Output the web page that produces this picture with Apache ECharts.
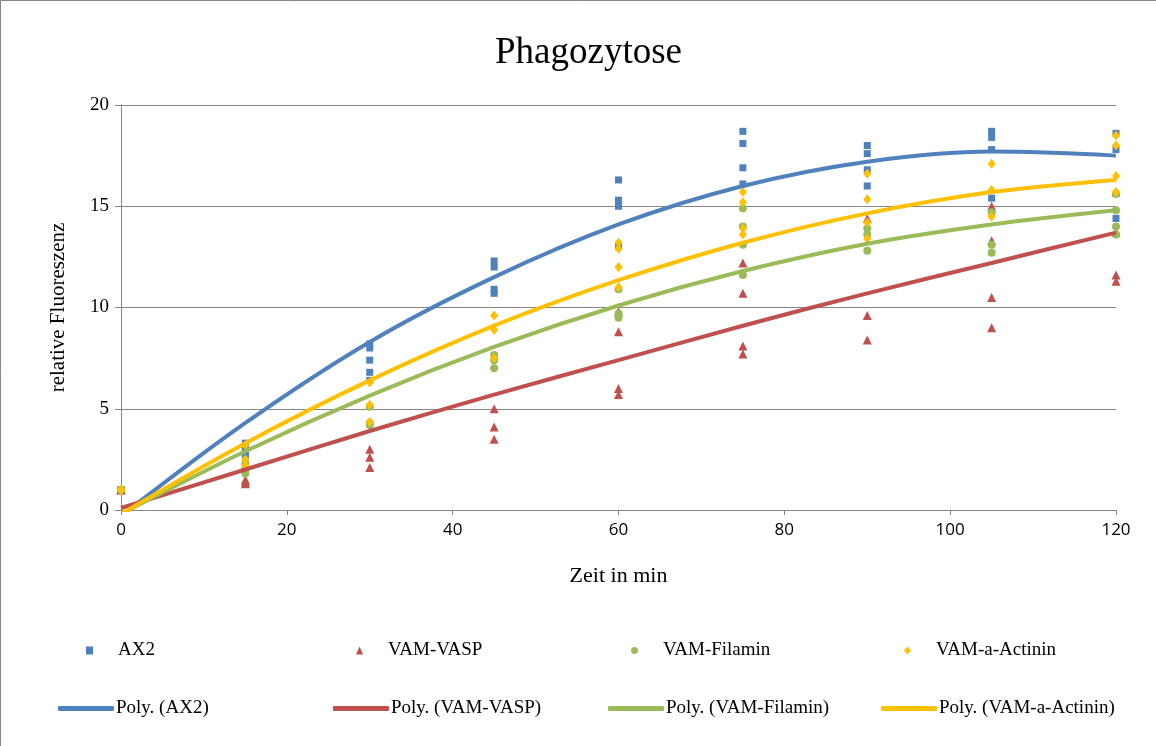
<!DOCTYPE html>
<html><head><meta charset="utf-8">
<script src="https://cdn.jsdelivr.net/npm/echarts@6/dist/echarts.min.js"></script>
<style>html,body{margin:0;padding:0;background:#fff}#c{width:1156px;height:746px}</style>
</head><body><div id="c"></div><script>
// time points (min)
const times = [0, 15, 30, 45, 60, 75, 90, 105, 120];
// replicate values per time point (relative fluorescence)
const ax2 = [[1,1,1],[3.3,3.1,2.9,2.7],[8.2,8.0,7.4,6.8,6.4],[12.3,12.0,10.9,10.7],[16.3,15.3,15.0,13.0],[18.7,18.1,16.9,16.1],[18.0,17.6,16.8,16.0],[18.7,18.4,17.8,15.4],[18.6,17.8,14.4]];
const vamVasp = [[1,1,1],[1.5,1.4,1.3],[3.0,2.6,2.1],[5.0,4.1,3.5],[9.8,8.8,6.0,5.7],[12.2,10.7,8.1,7.7],[14.4,9.6,8.4],[15.0,13.3,10.5,9.0],[15.7,13.7,11.6,11.3]];
const vamFilamin = [[1,1,1],[2.3,2.0,1.8],[5.1,4.3,4.2],[7.65,7.4,7.0],[10.9,9.7,9.5],[14.9,14.0,13.1,11.6],[13.9,13.6,12.8],[14.7,13.1,12.7],[15.6,14.8,14.0,13.6]];
const vamActinin = [[1,1,1],[3.2,2.5,2.2],[6.3,5.2,4.35],[9.6,8.9,7.5],[13.2,12.9,12.0,11.0],[15.7,15.2,13.9,13.6],[16.6,15.35,14.2,13.4],[17.1,15.8,14.5],[18.5,18.0,16.5,15.7]];
// polynomial trendline values at each time point
const trendAx2 = [-0.3, 4.3, 8.3, 11.5, 14.1, 16.0, 17.2, 17.7, 17.5];
const trendVasp = [0.1, 2.0, 3.9, 5.7, 7.4, 9.1, 10.7, 12.2, 13.7];
const trendFilamin = [-0.2, 2.9, 5.65, 8.05, 10.1, 11.8, 13.15, 14.1, 14.8];
const trendActinin = [-0.2, 3.3, 6.4, 9.1, 11.35, 13.2, 14.65, 15.7, 16.3];
const seriesNames = ['AX2', 'VAM-VASP', 'VAM-Filamin', 'VAM-a-Actinin'];
const trendNames = ['Poly. (AX2)', 'Poly. (VAM-VASP)', 'Poly. (VAM-Filamin)', 'Poly. (VAM-a-Actinin)'];
const xTicks = [0, 20, 40, 60, 80, 100, 120];
const yTicks = [0, 5, 10, 15, 20];

const colors = ['#4F81BD', '#C0504D', '#9BBB59', '#FFC000'];
const symbols = ['rect', 'triangle', 'circle', 'diamond'];
const symSizes = [7, 9, 8, [8, 10]];
const allData = [ax2, vamVasp, vamFilamin, vamActinin];
const allTrends = [trendAx2, trendVasp, trendFilamin, trendActinin];

function toPoints(reps) {
  const pts = [];
  reps.forEach((vals, i) => vals.forEach(v => pts.push([times[i], v])));
  return pts;
}

const series = [];
allData.forEach((reps, i) => {
  series.push({
    name: seriesNames[i], type: 'scatter', data: toPoints(reps),
    symbol: symbols[i], symbolSize: symSizes[i],
    itemStyle: { color: colors[i], opacity: 1 }, z: 2
  });
});
allTrends.forEach((tr, i) => {
  series.push({
    name: trendNames[i], type: 'line', data: tr.map((v, k) => [times[k], v]),
    smooth: 0.35, showSymbol: false, symbol: 'none', clip: true,
    lineStyle: { color: colors[i], width: 4 }, itemStyle: { color: colors[i] }, z: 3
  });
});

const serif = '"Liberation Serif", "Times New Roman", serif';
const legendBase = { orient: 'horizontal', padding: 0, selectedMode: false,
  textStyle: { fontFamily: serif, fontSize: 19, color: '#000' } };
const row1Left = [86, 356, 631, 904];
const row2Left = [58, 333, 608, 881];
const legends = [];
seriesNames.forEach((n, i) => legends.push(Object.assign({}, legendBase, {
  data: [n], left: row1Left[i], top: 641, itemWidth: 7, itemHeight: 8,
  textStyle: Object.assign({}, legendBase.textStyle, { padding: [0, 0, 0, 20] })
})));
trendNames.forEach((n, i) => legends.push(Object.assign({}, legendBase, {
  data: [n], left: row2Left[i], top: 699, itemWidth: 56, itemHeight: 5, icon: 'roundRect',
  textStyle: Object.assign({}, legendBase.textStyle, { padding: [0, 0, 0, -3] })
})));

const chart = echarts.init(document.getElementById('c'), null, { renderer: 'canvas' });
chart.setOption({
  backgroundColor: '#fff',
  animation: false,
  title: { text: 'Phagozytose', left: 490, top: 30,
    textStyle: { fontFamily: serif, fontSize: 37, fontWeight: 'normal', color: '#000' } },
  graphic: [{ type: 'rect', shape: { x: 0.5, y: 0.5, width: 1200, height: 800 },
    style: { fill: 'none', stroke: '#868686', lineWidth: 1 }, silent: true }],
  legend: legends,
  grid: { left: 121, right: 40, top: 105, bottom: 236, containLabel: false },
  xAxis: {
    type: 'value', min: xTicks[0], max: xTicks[xTicks.length - 1], interval: 20,
    name: 'Zeit in min', nameLocation: 'middle', nameGap: 55,
    nameTextStyle: { fontFamily: serif, fontSize: 22, color: '#000' },
    axisLine: { show: true, lineStyle: { color: '#868686', width: 1 } },
    axisTick: { show: true, length: 5, lineStyle: { color: '#868686' } },
    splitLine: { show: false },
    axisLabel: { fontFamily: '"Open Sans", sans-serif', fontSize: 17, color: '#000', margin: 12 }
  },
  yAxis: {
    type: 'value', min: yTicks[0], max: yTicks[yTicks.length - 1], interval: 5,
    name: 'relative Fluoreszenz', nameLocation: 'middle', nameGap: 52, nameRotate: 90,
    nameTextStyle: { fontFamily: serif, fontSize: 21, color: '#000' },
    axisLine: { show: true, lineStyle: { color: '#868686', width: 1 } },
    axisTick: { show: true, length: 6, lineStyle: { color: '#868686' } },
    splitLine: { show: true, lineStyle: { color: '#868686', width: 1 } },
    axisLabel: { fontFamily: serif, fontSize: 19, color: '#000', margin: 12 }
  },
  series: series
});
</script></body></html>
